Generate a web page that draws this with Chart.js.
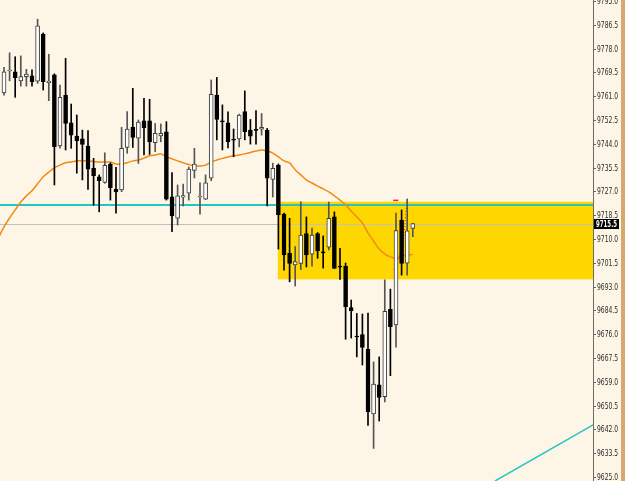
<!DOCTYPE html>
<html>
<head>
<meta charset="utf-8">
<script src="https://cdn.jsdelivr.net/npm/chart.js@4.4.1/dist/chart.umd.min.js"></script>
<style>
  html, body { margin: 0; padding: 0; }
  body { width: 625px; height: 481px; background: #d8a772; overflow: hidden; }
  #wrap { position: relative; width: 621px; height: 481px; background: #fdf5e6; }
</style>
</head>
<body>
<div id="wrap"><canvas id="chart"></canvas></div>
<script>
// ローソク足 (OHLC)
const candleOpen = [
  9762.2, 9770.0, 9769.7, 9766.5, 9768.0, 9768.3, 9766.4, 9783.2, 9765.8, 9768.6,
  9743.2, 9761.4, 9751.5, 9746.8, 9745.8, 9743.2, 9735.2, 9732.2, 9730.2, 9736.8,
  9727.7, 9727.5, 9742.7, 9749.9, 9746.0, 9752.2, 9752.2, 9744.4, 9746.8, 9748.3,
  9725.1, 9717.4, 9724.9, 9726.4, 9734.5, 9725.0, 9724.2, 9731.7, 9761.4, 9752.2,
  9751.5, 9745.4, 9745.7, 9755.5, 9748.9, 9749.0, 9749.2, 9748.9, 9731.3, 9736.4,
  9718.9, 9704.9, 9700.7, 9701.3, 9711.9, 9704.6, 9711.9, 9705.4, 9707.1, 9717.9,
  9700.3, 9700.3, 9685.5, 9675.2, 9675.9, 9670.6, 9647.5, 9657.9, 9653.7, 9684.9,
  9679.3, 9716.8, 9701.4, 9713.8
];
const candleHigh = [
  9771.3, 9776.5, 9775.1, 9775.4, 9770.6, 9770.4, 9788.5, 9783.6, 9776.0, 9769.0,
  9765.0, 9774.5, 9758.2, 9754.3, 9748.9, 9748.7, 9738.8, 9732.9, 9740.8, 9737.2,
  9735.6, 9749.9, 9755.5, 9763.8, 9752.5, 9760.2, 9759.9, 9751.3, 9751.1, 9751.9,
  9733.7, 9729.3, 9729.6, 9735.7, 9742.4, 9730.1, 9732.9, 9766.8, 9767.7, 9757.9,
  9755.4, 9749.3, 9754.6, 9762.9, 9752.7, 9755.9, 9754.8, 9749.5, 9737.1, 9736.8,
  9719.3, 9717.4, 9707.3, 9723.3, 9717.9, 9713.9, 9712.3, 9711.1, 9723.2, 9719.7,
  9706.7, 9701.4, 9688.2, 9683.4, 9683.2, 9683.5, 9666.1, 9667.9, 9695.4, 9692.1,
  9719.3, 9720.4, 9724.3, 9715.5
];
const candleLow = [
  9761.4, 9766.5, 9760.6, 9764.6, 9764.6, 9764.6, 9765.6, 9763.2, 9759.4, 9729.3,
  9742.4, 9741.8, 9742.4, 9733.5, 9731.1, 9727.7, 9722.1, 9719.7, 9729.9, 9723.9,
  9719.2, 9726.9, 9740.6, 9742.7, 9737.0, 9740.0, 9740.2, 9741.2, 9744.7, 9723.9,
  9712.6, 9715.0, 9721.8, 9723.9, 9731.8, 9718.9, 9724.1, 9730.8, 9745.4, 9741.8,
  9742.5, 9739.4, 9742.9, 9745.4, 9743.9, 9743.9, 9747.1, 9721.8, 9725.0, 9706.4,
  9698.9, 9694.7, 9693.2, 9699.1, 9700.0, 9700.3, 9703.1, 9699.6, 9706.1, 9699.5,
  9695.6, 9674.2, 9674.6, 9667.9, 9665.0, 9643.4, 9635.2, 9645.0, 9651.8, 9661.2,
  9671.4, 9697.1, 9697.1, 9710.8
];
const candleClose = [
  9769.7, 9770.2, 9767.6, 9768.0, 9768.9, 9766.2, 9786.1, 9766.2, 9766.4, 9743.0,
  9760.6, 9751.3, 9747.1, 9745.1, 9743.8, 9734.9, 9732.6, 9730.8, 9736.3, 9728.3,
  9726.8, 9742.4, 9749.3, 9746.3, 9751.8, 9749.7, 9744.7, 9747.7, 9747.7, 9724.2,
  9718.2, 9725.4, 9725.5, 9735.0, 9736.8, 9725.2, 9730.1, 9761.7, 9752.7, 9751.8,
  9744.7, 9745.3, 9754.3, 9748.3, 9746.7, 9748.8, 9749.9, 9731.7, 9735.2, 9718.6,
  9704.3, 9701.3, 9701.9, 9711.4, 9704.3, 9711.4, 9705.7, 9705.1, 9717.4, 9699.5,
  9699.9, 9685.8, 9684.3, 9675.0, 9671.3, 9648.3, 9658.2, 9653.4, 9684.2, 9678.7,
  9713.0, 9701.3, 9712.9, 9715.5
];
// 移動平均線 (先頭は画面外の1本前)
const maValues = [
  9710.4,
  9714.3, 9717.5, 9720.4, 9723.2, 9725.4, 9727.2, 9729.7, 9732.2, 9733.9, 9735.4,
  9736.4, 9737.2, 9737.5, 9737.9, 9737.9, 9737.9, 9737.7, 9737.5, 9737.5, 9737.5,
  9736.8, 9736.8, 9737.2, 9737.9, 9738.2, 9738.9, 9739.7, 9740.0, 9740.4, 9739.3,
  9738.6, 9737.9, 9737.2, 9736.6, 9736.1, 9736.1, 9736.4, 9737.5, 9738.2, 9738.8,
  9739.3, 9739.7, 9740.0, 9740.4, 9740.9, 9741.4, 9741.8, 9741.4, 9740.7, 9739.3,
  9737.9, 9737.2, 9734.7, 9732.9, 9731.1, 9730.0, 9728.9, 9727.9, 9726.8, 9725.4,
  9723.9, 9722.2, 9720.0, 9717.9, 9715.7, 9712.2, 9709.3, 9706.4, 9704.7, 9703.6,
  9703.2, 9703.9, 9704.3, 9704.5
];
// 価格目盛り
const priceTicks = [
  9795.0, 9786.5, 9778.0, 9769.5, 9761.0, 9752.5, 9744.0, 9735.5, 9727.0, 9718.5,
  9710.0, 9701.5, 9693.0, 9684.5, 9676.0, 9667.5, 9659.0, 9650.5, 9642.0, 9633.5, 9625.0
];
// 水平線・ゾーン・トレンドライン
const bidPrice = 9715.5;
const levelPrice = 9722.1;
const zoneTop = 9723.3;
const zoneBottom = 9695.6;
const zoneStart = 48.9;
const trendX = [87.7, 105.2];
const trendY = [9623.6, 9643.6];
const redDashX = [69.5, 70.4];
const redDashY = [9723.8, 9723.8];
const redTradeX = [69.6, 71.25, 71.96];
const redTradeY = [9698.9, 9707.1, 9723.9];

const CYAN = "#22c4c4";
const LABEL_FONT = "9px 'Liberation Sans Narrow', 'DejaVu Sans Condensed', 'Liberation Sans', sans-serif";

const bull = candleClose.map((c, i) => c >= candleOpen[i]);

const overlay = {
  id: "overlay",
  beforeDatasetsDraw(chart) {
    const { ctx, chartArea, scales } = chart;
    const x = scales.x, y = scales.y;
    ctx.save();
    // ゾーン
    const zx = x.getPixelForValue(zoneStart);
    const zt = y.getPixelForValue(zoneTop);
    const zb = y.getPixelForValue(zoneBottom);
    ctx.fillStyle = "#ffd700";
    ctx.fillRect(zx, zt, chartArea.right - zx, zb - zt);
    // Bid ライン
    const by = Math.round(y.getPixelForValue(bidPrice)) + 0.5;
    ctx.strokeStyle = "#c0c0c0";
    ctx.lineWidth = 1;
    ctx.beginPath();
    ctx.moveTo(chartArea.left, by);
    ctx.lineTo(chartArea.right, by);
    ctx.stroke();
    // 水平線
    const ly = y.getPixelForValue(levelPrice);
    ctx.strokeStyle = CYAN;
    ctx.lineWidth = 2;
    ctx.beginPath();
    ctx.moveTo(chartArea.left, ly);
    ctx.lineTo(chartArea.right, ly);
    ctx.stroke();
    ctx.restore();
  },
  afterDraw(chart) {
    const { ctx, chartArea, scales } = chart;
    const y = scales.y;
    const ax = chartArea.right;
    ctx.save();
    // 目盛りとラベル
    ctx.strokeStyle = "#6a6a6a";
    ctx.lineWidth = 1;
    ctx.fillStyle = "#2a2a2a";
    ctx.font = LABEL_FONT;
    ctx.textBaseline = "middle";
    ctx.textAlign = "left";
    y.ticks.forEach((t) => {
      const py = Math.round(y.getPixelForValue(t.value)) + 0.5;
      ctx.beginPath();
      ctx.moveTo(ax, py);
      ctx.lineTo(ax + 3, py);
      ctx.stroke();
      ctx.fillText(Number(t.value).toFixed(1), ax + 4, py, 21);
    });
    // 現在値ラベル
    const by = Math.round(y.getPixelForValue(bidPrice));
    ctx.fillStyle = "#000";
    ctx.fillRect(ax + 1, by - 5, 25, 10);
    ctx.fillStyle = "#fff";
    ctx.font = "bold " + LABEL_FONT;
    ctx.fillText(bidPrice.toFixed(1), ax + 3, by + 0.5, 21);
    ctx.restore();
  }
};

const ctx = document.getElementById("chart").getContext("2d");
new Chart(ctx, {
  type: "bar",
  data: {
    datasets: [
      {
        label: "body",
        order: 0,
        data: candleOpen.map((o, i) => ({ x: i, y: [o, candleClose[i]] })),
        backgroundColor: bull.map((b) => (b ? "#ffffff" : "#000000")),
        borderColor: bull.map((b) => (b ? "#3a3a3a" : "#000000")),
        borderWidth: 1,
        borderSkipped: false,
        barThickness: 4,
        minBarLength: 1,
        grouped: false
      },
      {
        label: "wick",
        order: 1,
        data: candleLow.map((l, i) => ({ x: i, y: [l, candleHigh[i]] })),
        backgroundColor: bull.map((b) => (b ? "#555555" : "#000000")),
        borderWidth: 0,
        barThickness: 1,
        grouped: false
      },
      {
        type: "line",
        label: "MA",
        order: 2,
        data: maValues.map((v, i) => ({ x: i - 1, y: v })),
        borderColor: "#f28a14",
        borderWidth: 1.5,
        pointRadius: 0,
        tension: 0.3
      },
      {
        type: "line",
        label: "trend",
        order: 3,
        data: trendX.map((v, i) => ({ x: v, y: trendY[i] })),
        borderColor: CYAN,
        borderWidth: 1.5,
        pointRadius: 0
      },
      {
        type: "line",
        label: "red",
        order: 3,
        data: redDashX.map((v, i) => ({ x: v, y: redDashY[i] })),
        borderColor: "#ff2020",
        borderWidth: 1.5,
        pointRadius: 0
      },
      {
        type: "line",
        label: "trade",
        order: 3,
        data: redTradeX.map((v, i) => ({ x: v, y: redTradeY[i] })),
        borderColor: "#ff3030",
        borderWidth: 1,
        borderDash: [1, 2],
        pointRadius: 0
      }
    ]
  },
  options: {
    responsive: true,
    maintainAspectRatio: false,
    animation: false,
    layout: { padding: 0, autoPadding: false },
    plugins: { legend: { display: false }, tooltip: { enabled: false } },
    scales: {
      x: {
        type: "linear",
        display: false,
        offset: false,
        min: -0.714,
        max: 105.18
      },
      y: {
        position: "right",
        min: 9623.57,
        max: 9795.36,
        afterBuildTicks: (s) => {
          s.ticks = priceTicks.map((v) => ({ value: v }));
        },
        afterFit: (s) => {
          s.width = 28;
        },
        grid: { display: false },
        border: { display: true, color: "#6a6a6a", width: 1 },
        ticks: { display: false }
      }
    }
  },
  plugins: [overlay]
});
</script>
</body>
</html>
